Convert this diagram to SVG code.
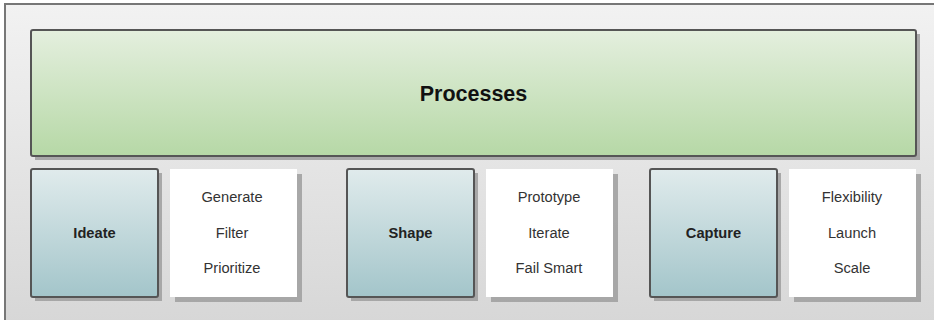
<svg xmlns="http://www.w3.org/2000/svg" width="934" height="320" viewBox="0 0 934 320">
<defs>
<linearGradient id="bg" x1="0" y1="0" x2="0" y2="1"><stop offset="0" stop-color="#f2f2f2"/><stop offset="1" stop-color="#d6d6d6"/></linearGradient>
<linearGradient id="green" x1="0" y1="0" x2="0" y2="1"><stop offset="0" stop-color="#e4efde"/><stop offset="1" stop-color="#b6d8a6"/></linearGradient>
<linearGradient id="blue" x1="0" y1="0" x2="0" y2="1"><stop offset="0" stop-color="#e0ebec"/><stop offset="1" stop-color="#a3c5ca"/></linearGradient>
</defs>
<style>
.sh{fill:#9e9e9e;opacity:0.85}
.g{fill:url(#green);stroke:#555;stroke-width:2}
.b{fill:url(#blue);stroke:#555;stroke-width:2}
.w{fill:#fff}
.t{font-family:"Liberation Sans",Arial,sans-serif;font-size:14.67px;fill:#333;text-anchor:middle}
.bt{font-family:"Liberation Sans",Arial,sans-serif;font-size:14.67px;font-weight:bold;fill:#222;text-anchor:middle}
.pt{font-family:"Liberation Sans",Arial,sans-serif;font-size:21.5px;font-weight:bold;fill:#111;text-anchor:middle}
</style>
<g id="container">
<rect x="5" y="4" width="940" height="330" fill="url(#bg)" stroke="#777" stroke-width="2"/>
</g>
<g id="processes">
<rect class="sh" x="35" y="34" width="885" height="126"/>
<rect class="g" x="31" y="30" width="885" height="126" rx="2"/>
<text class="pt" x="473.5" y="101">Processes</text>
</g>
<g id="ideate">
<rect class="sh" x="35" y="173" width="127" height="128"/>
<rect class="b" x="31" y="169" width="127" height="128" rx="2"/>
<text class="bt" x="94.5" y="238">Ideate</text>
</g>
<g id="ideate-list">
<rect class="sh" x="175" y="174" width="127" height="128"/>
<rect class="w" x="170" y="169" width="127" height="128"/>
<text class="t" x="232" y="202">Generate</text>
<text class="t" x="232" y="238">Filter</text>
<text class="t" x="232" y="273">Prioritize</text>
</g>
<g id="shape">
<rect class="sh" x="351" y="173" width="127" height="128"/>
<rect class="b" x="347" y="169" width="127" height="128" rx="2"/>
<text class="bt" x="410.5" y="238">Shape</text>
</g>
<g id="shape-list">
<rect class="sh" x="491" y="174" width="127" height="128"/>
<rect class="w" x="486" y="169" width="127" height="128"/>
<text class="t" x="549" y="202">Prototype</text>
<text class="t" x="549" y="238">Iterate</text>
<text class="t" x="549" y="273">Fail Smart</text>
</g>
<g id="capture">
<rect class="sh" x="654" y="173" width="127" height="128"/>
<rect class="b" x="650" y="169" width="127" height="128" rx="2"/>
<text class="bt" x="713.5" y="238">Capture</text>
</g>
<g id="capture-list">
<rect class="sh" x="794" y="174" width="127" height="128"/>
<rect class="w" x="789" y="169" width="127" height="128"/>
<text class="t" x="852" y="202">Flexibility</text>
<text class="t" x="852" y="238">Launch</text>
<text class="t" x="852" y="273">Scale</text>
</g>
<g id="connectors"/>
</svg>
